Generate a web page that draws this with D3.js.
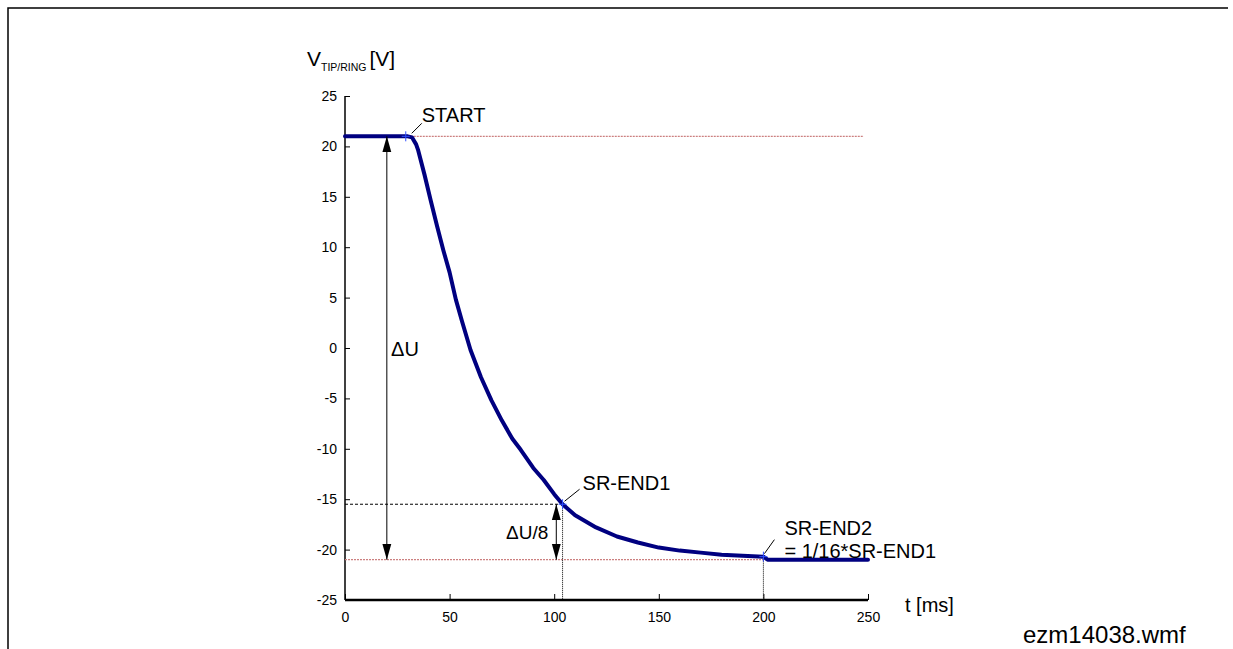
<!DOCTYPE html>
<html>
<head>
<meta charset="utf-8">
<script src="https://cdn.jsdelivr.net/npm/d3@7"></script>
<style>
  body { margin: 0; background: #fff; }
  svg text { font-family: "Liberation Sans", Arial, sans-serif; fill: #000; }
</style>
</head>
<body>
<script>
// curve data
const times = [0, 30, 32, 34, 35, 38, 41, 44, 47, 50, 53, 56, 60, 65, 70, 75, 80, 84, 90, 95, 100, 104, 110, 120, 130, 140, 150, 160, 170, 180, 190, 200, 202, 250];
const volts = [21, 21, 20.9, 20.2, 19.6, 17.2, 14.6, 12.1, 9.7, 7.5, 4.8, 2.6, -0.2, -2.9, -5.2, -7.2, -9, -10.1, -11.9, -13.1, -14.5, -15.5, -16.6, -17.8, -18.7, -19.3, -19.8, -20.1, -20.3, -20.5, -20.6, -20.7, -21, -21];
const xTicks = [0, 50, 100, 150, 200, 250];
const yTicks = [25, 20, 15, 10, 5, 0, -5, -10, -15, -20, -25];
// marker points: START, SR-END1, SR-END2
const markT = [30, 104, 200];
const markV = [21, -15.5, -20.7];
const markLabels = ["START", "SR-END1", "SR-END2"];
const uHigh = 21, uLow = -21;

function main(){
    const width = 1233, height = 649;
    const svg = d3.select('body').append('svg')
        .attr('width', width)
        .attr('height', height);

    // frame (top + left edge)
    svg.append('path')
        .attr('d', 'M8,649 L8,8 L1228,8')
        .attr('fill', 'none')
        .attr('stroke', '#000')
        .attr('stroke-width', 1.5);

    const x = d3.scaleLinear().domain([0, 250]).range([345, 868]);
    const y = d3.scaleLinear().domain([-25, 25]).range([600, 96]);

    // long narrow filled arrow heads
    const defs = svg.append('defs');
    defs.append('marker').attr('id', 'ah')
        .attr('viewBox', '0 0 16 10').attr('refX', 16).attr('refY', 5)
        .attr('markerWidth', 16).attr('markerHeight', 10)
        .attr('markerUnits', 'userSpaceOnUse')
        .attr('orient', 'auto-start-reverse')
        .append('path').attr('d', 'M0,0.5 L16,5 L0,9.5 Z').attr('fill', '#000');

    // axes, ticks inside
    const xAxis = d3.axisBottom(x).tickValues(xTicks).tickSize(-6).tickPadding(12).tickFormat(d => String(d));
    const yAxis = d3.axisLeft(y).tickValues(yTicks).tickSize(-5).tickPadding(8).tickFormat(d => String(d));

    const gx = svg.append('g').attr('transform', `translate(0,${y(-25)})`).call(xAxis);
    const gy = svg.append('g').attr('transform', `translate(${x(0)},0)`).call(yAxis);
    [gx, gy].forEach(g => {
        g.selectAll('.tick line').attr('stroke-width', 1);
        g.selectAll('.tick text').attr('font-size', 14).attr('font-family', '"Liberation Sans", Arial, sans-serif');
    });
    gx.select('.domain').attr('d', `M${x(0)},0H${x(250)}`).attr('stroke-width', 2.5);
    gy.select('.domain').attr('d', `M0,${y(-25)}V${y(25)}`).attr('stroke-width', 1.5);

    // reference lines (red dotted)
    svg.append('line')
        .attr('x1', x(markT[0])).attr('x2', x(248))
        .attr('y1', y(uHigh)).attr('y2', y(uHigh))
        .attr('stroke', '#cc8080').attr('stroke-width', 1.2).attr('stroke-dasharray', '2,1');
    svg.append('line')
        .attr('x1', x(0)).attr('x2', x(250))
        .attr('y1', y(uLow)).attr('y2', y(uLow))
        .attr('stroke', '#cc8080').attr('stroke-width', 1.2).attr('stroke-dasharray', '2,1');

    // black dotted guides
    svg.append('line')
        .attr('x1', x(0)).attr('x2', x(markT[1]))
        .attr('y1', y(markV[1])).attr('y2', y(markV[1]))
        .attr('stroke', '#000').attr('stroke-width', 1).attr('stroke-dasharray', '3,2');
    svg.append('line')
        .attr('x1', x(markT[1])).attr('x2', x(markT[1]))
        .attr('y1', y(markV[1])).attr('y2', y(-25))
        .attr('stroke', '#000').attr('stroke-width', 1).attr('stroke-dasharray', '1,1');
    svg.append('line')
        .attr('x1', x(markT[2])).attr('x2', x(markT[2]))
        .attr('y1', y(markV[2])).attr('y2', y(-25))
        .attr('stroke', '#000').attr('stroke-width', 1).attr('stroke-dasharray', '1,1');

    // the curve
    const line = d3.line().x((d, i) => x(times[i])).y(d => y(d));
    svg.append('path')
        .datum(volts)
        .attr('d', line)
        .attr('fill', 'none')
        .attr('stroke', '#000080')
        .attr('stroke-width', 4)
        .attr('stroke-linejoin', 'round')
        .attr('stroke-linecap', 'round');

    // point markers
    markT.forEach((t, i) => {
        const px = x(t) + (i === 0 ? -2 : 0), py = y(markV[i]);
        svg.append('path')
            .attr('d', `M${px - 4},${py}H${px + 4}M${px},${py - 5}V${py + 5}`)
            .attr('stroke', '#3050ff').attr('stroke-width', 1);
    });

    // ΔU arrow
    svg.append('line')
        .attr('x1', x(20)).attr('x2', x(20))
        .attr('y1', y(uHigh)).attr('y2', y(uLow))
        .attr('stroke', '#000').attr('stroke-width', 1)
        .attr('marker-start', 'url(#ah)').attr('marker-end', 'url(#ah)');
    // ΔU/8 arrow
    svg.append('line')
        .attr('x1', x(101)).attr('x2', x(101))
        .attr('y1', y(markV[1])).attr('y2', y(uLow))
        .attr('stroke', '#000').attr('stroke-width', 1)
        .attr('marker-start', 'url(#ah)').attr('marker-end', 'url(#ah)');

    // labels
    const txt = (px, py, s, size, anchor) => svg.append('text')
        .attr('x', px).attr('y', py).attr('font-size', size)
        .attr('text-anchor', anchor || 'start').text(s);

    txt(x(22), y(-0.8), 'ΔU', 20);
    txt(x(77), y(-18.9), 'ΔU/8', 19);

    // leader lines
    const leaders = [[x(markT[0]) + 4, y(markV[0]) - 3, x(markT[0]) + 14, y(markV[0]) - 13],
                     [x(markT[1]) + 2, y(markV[1]) - 3, x(markT[1]) + 17, y(markV[1]) - 15],
                     [x(markT[2]) + 1, y(markV[2]) - 3, x(markT[2]) + 11, y(markV[2]) - 17]];
    leaders.forEach(l => svg.append('line')
        .attr('x1', l[0]).attr('y1', l[1]).attr('x2', l[2]).attr('y2', l[3])
        .attr('stroke', '#000').attr('stroke-width', 1));

    txt(x(markT[0]) + 14, y(markV[0]) - 14, markLabels[0], 20);
    txt(x(markT[1]) + 20, y(markV[1]) - 14, markLabels[1], 20);
    txt(x(markT[2]) + 21, y(markV[2]) - 22, markLabels[2], 20);
    txt(x(markT[2]) + 21, y(markV[2]) + 1, '= 1/16*SR-END1', 20);

    // axis titles
    const yl = svg.append('text').attr('x', 307).attr('y', 66).attr('font-size', 21);
    yl.append('tspan').text('V');
    yl.append('tspan').attr('font-size', 10.5).attr('dy', 5).text('TIP/RING');
    yl.append('tspan').attr('dy', -5).attr('dx', 3).text('[V]');

    txt(905, 612, 't [ms]', 20);
    txt(1023, 643, 'ezm14038.wmf', 24);
}
main();
</script>
</body>
</html>
